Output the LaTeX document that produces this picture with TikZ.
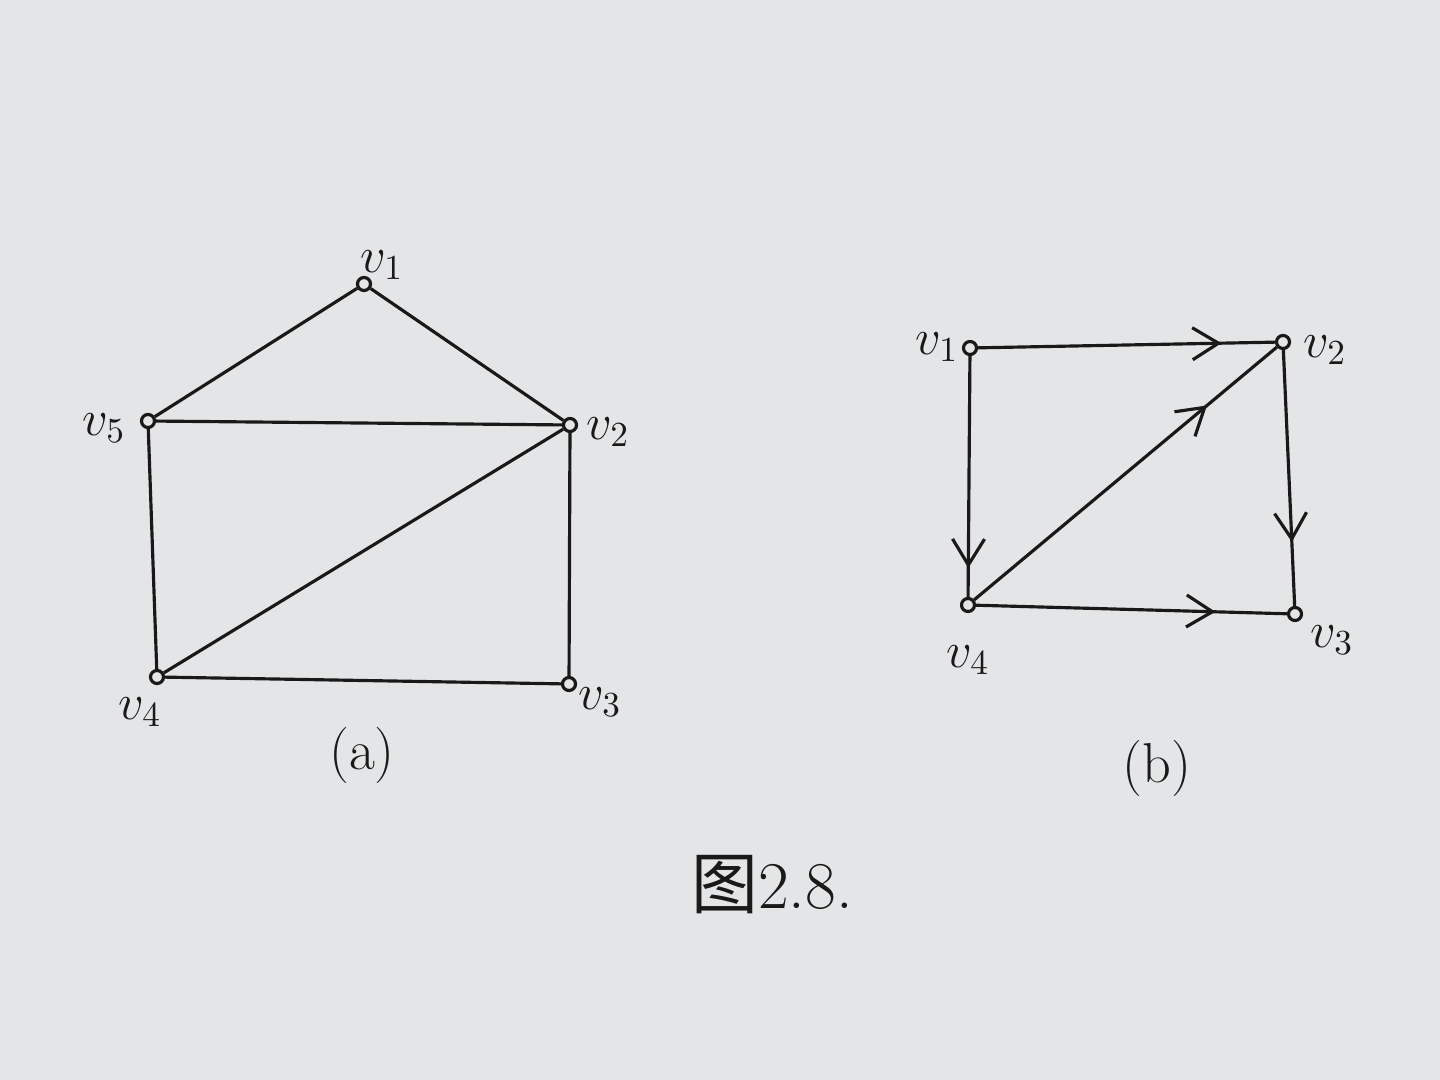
\documentclass[tikz,border=0pt]{standalone}
\usepackage{fontspec}
\newfontfamily\cjk{Noto Sans CJK SC}
\usetikzlibrary{arrows.meta,decorations.markings}
\definecolor{paper}{RGB}{228,229,231}
\definecolor{ink}{RGB}{25,25,25}
\tikzset{
  vtx/.style={circle,draw=ink,line width=0.9pt,fill=paper,inner sep=0pt,minimum size=1.3mm},
  edge/.style={draw=ink,line width=0.9pt},
  lbl/.style={text=ink,font=\fontsize{14}{16}\selectfont},
  arr/.style={edge,postaction={decorate},decoration={markings,mark=at position #1 with {\arrow[ink]{Straight Barb[length=2.6mm,width=3.2mm,line width=0.9pt]}}}}
}
\begin{document}
\begin{tikzpicture}[x=0.01cm,y=-0.01cm]
\useasboundingbox[fill=paper] (0,0) rectangle (1440,1080);
% (a)
\node[vtx] (a1) at (364,284) {};
\node[vtx] (a5) at (148,421) {};
\node[vtx] (a2) at (570,425) {};
\node[vtx] (a4) at (157,677) {};
\node[vtx] (a3) at (569,684) {};
\draw[edge] (a1) -- (a5);
\draw[edge] (a1) -- (a2);
\draw[edge] (a5) -- (a2);
\draw[edge] (a5) -- (a4);
\draw[edge] (a4) -- (a2);
\draw[edge] (a2) -- (a3);
\draw[edge] (a4) -- (a3);
\node[lbl] (la1) at (382,265) {$v_1$};
\node[lbl] (la5) at (104,428) {$v_5$};
\node[lbl] (la2) at (608,432) {$v_2$};
\node[lbl] (la4) at (140,712) {$v_4$};
\node[lbl] (la3) at (600,702) {$v_3$};
\node[lbl,font=\fontsize{16}{18}\selectfont] (capa) at (362,755) {(a)};
% (b)
\node[vtx] (b1) at (970,348) {};
\node[vtx] (b2) at (1283,342) {};
\node[vtx] (b4) at (968,605) {};
\node[vtx] (b3) at (1295,614) {};
\draw[arr=0.82] (b1) -- (b2);
\draw[arr=0.88] (b1) -- (b4);
\draw[arr=0.77] (b4) -- (b2);
\draw[arr=0.75] (b2) -- (b3);
\draw[arr=0.77] (b4) -- (b3);
\node[lbl] (lb1) at (937,347) {$v_1$};
\node[lbl] (lb2) at (1325,350) {$v_2$};
\node[lbl] (lb4) at (968,660) {$v_4$};
\node[lbl] (lb3) at (1332,640) {$v_3$};
\node[lbl,font=\fontsize{16}{18}\selectfont] (capb) at (1157,768) {(b)};
% caption
\node[lbl,font=\fontsize{19}{22}\selectfont] (cap) at (772,885) {{\cjk 图}2.8.};
\end{tikzpicture}
\end{document}
